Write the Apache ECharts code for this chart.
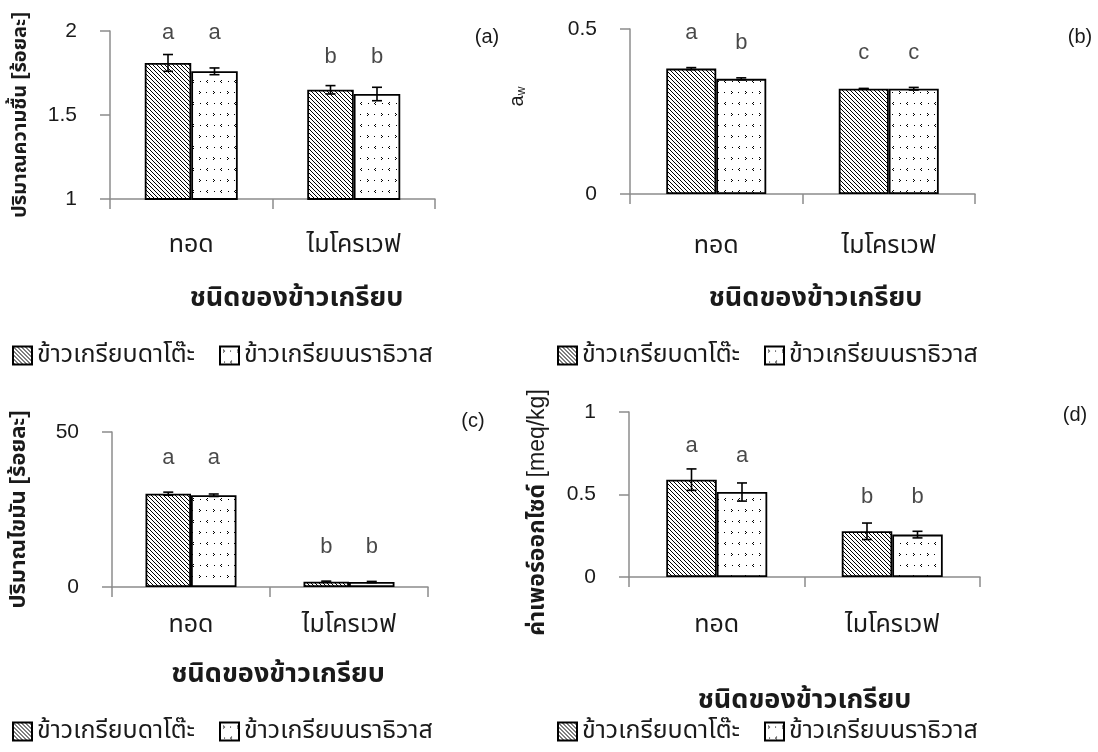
<!DOCTYPE html>
<html>
<head>
<meta charset="utf-8">
<script src="https://cdn.jsdelivr.net/npm/echarts@6/dist/echarts.min.js"></script>
<style>
  html, body { margin: 0; padding: 0; background: #fff; }
  #chart { width: 1098px; height: 752px; }
</style>
</head>
<body>
<div id="chart"></div>
<script>
// categories and series
var categories = ['ทอด', 'ไมโครเวฟ'];
var seriesNames = ['ข้าวเกรียบดาโต๊ะ', 'ข้าวเกรียบนราธิวาส'];

// (a) moisture
var moistureDatoh = [1.81, 1.65];
var moistureNara = [1.76, 1.625];
var moistureErrDatoh = [0.05, 0.025];
var moistureErrNara = [0.02, 0.04];
var moistureLetterDatoh = ['a', 'b'];
var moistureLetterNara = ['a', 'b'];
var moistureLetterPosDatoh = [1.99, 1.845];
var moistureLetterPosNara = [1.99, 1.845];

// (b) water activity
var awDatoh = [0.38, 0.319];
var awNara = [0.349, 0.319];
var awErrDatoh = [0.003, 0.001];
var awErrNara = [0.003, 0.004];
var awLetterDatoh = ['a', 'c'];
var awLetterNara = ['b', 'c'];
var awLetterPosDatoh = [0.488, 0.427];
var awLetterPosNara = [0.458, 0.427];

// (c) fat
var fatDatoh = [30.1, 1.7];
var fatNara = [29.6, 1.6];
var fatErrDatoh = [0.5, 0.2];
var fatErrNara = [0.4, 0.2];
var fatLetterDatoh = ['a', 'b'];
var fatLetterNara = ['a', 'b'];
var fatLetterPosDatoh = [41.6, 12.9];
var fatLetterPosNara = [41.6, 12.9];

// (d) peroxide value
var pvDatoh = [0.59, 0.277];
var pvNara = [0.515, 0.257];
var pvErrDatoh = [0.065, 0.05];
var pvErrNara = [0.055, 0.02];
var pvLetterDatoh = ['a', 'b'];
var pvLetterNara = ['a', 'b'];
var pvLetterPosDatoh = [0.795, 0.483];
var pvLetterPosNara = [0.735, 0.483];

var FONT = "'Liberation Sans', Arial, 'Noto Sans Thai', 'Noto Sans', 'DejaVu Sans', sans-serif";
var AXIS_GRAY = '#8c8c8c';
var TEXT = '#1a1a1a';

// fill patterns
function hatchPattern() {
    var c = document.createElement('canvas');
    c.width = 4; c.height = 4;
    var ctx = c.getContext('2d');
    ctx.fillStyle = '#fff';
    ctx.fillRect(0, 0, 4, 4);
    ctx.fillStyle = '#000';
    for (var i = 0; i < 4; ++i) {
        ctx.fillRect(i, i, 1, 1);
    }
    return { image: c, repeat: 'repeat' };
}
function dotPattern() {
    var c = document.createElement('canvas');
    c.width = 14; c.height = 22;
    var ctx = c.getContext('2d');
    ctx.fillStyle = '#fff';
    ctx.fillRect(0, 0, 14, 22);
    ctx.fillStyle = '#000';
    // ">" shaped dot
    ctx.fillRect(3, 3, 1, 1);
    ctx.fillRect(4, 4, 1, 1);
    ctx.fillRect(3, 5, 1, 1);
    // "<" shaped dot
    ctx.fillRect(11, 14, 1, 1);
    ctx.fillRect(10, 15, 1, 1);
    ctx.fillRect(11, 16, 1, 1);
    // staggered extra dots
    ctx.fillRect(10, 4, 1, 1);
    ctx.fillRect(4, 15, 1, 1);
    return { image: c, repeat: 'repeat' };
}
var fills = [hatchPattern(), dotPattern()];

var panels = [
    { grid: { left: 110, top: 31, width: 325, height: 168 }, barWidth: 46.5,
      min: 1, max: 2, interval: 0.5,
      yName: '{b|ปริมาณความชื้น [ร้อยละ]}', yGap: 80, yPad: [0, 0, 0, 0], yTitleSize: 20,
      labelMargin: 34, xGap: 86, xTitleShift: 48,
      values: [moistureDatoh, moistureNara], errs: [moistureErrDatoh, moistureErrNara],
      letters: [moistureLetterDatoh, moistureLetterNara], letterPos: [moistureLetterPosDatoh, moistureLetterPosNara],
      tag: '(a)', tagPos: [487, 37], legendPos: [12, 343] },
    { grid: { left: 630, top: 29, width: 345, height: 165 }, barWidth: 50,
      min: 0, max: 0.5, interval: 0.5,
      yName: 'a{sub|w}', yGap: 102, yPad: [0, 0, 0, 30], yTitleSize: 20,
      labelMargin: 40, xGap: 91, xTitleShift: 26,
      values: [awDatoh, awNara], errs: [awErrDatoh, awErrNara],
      letters: [awLetterDatoh, awLetterNara], letterPos: [awLetterPosDatoh, awLetterPosNara],
      tag: '(b)', tagPos: [1080, 37], legendPos: [557, 343] },
    { grid: { left: 112, top: 432, width: 316, height: 155 }, barWidth: 45.5,
      min: 0, max: 50, interval: 50,
      yName: '{b|ปริมาณไขมัน [ร้อยละ]}', yGap: 82, yPad: [0, 0, 0, 0], yTitleSize: 22,
      labelMargin: 26, xGap: 74, xTitleShift: 16,
      values: [fatDatoh, fatNara], errs: [fatErrDatoh, fatErrNara],
      letters: [fatLetterDatoh, fatLetterNara], letterPos: [fatLetterPosDatoh, fatLetterPosNara],
      tag: '(c)', tagPos: [473, 421], legendPos: [12, 719] },
    { grid: { left: 629, top: 412, width: 351, height: 165 }, barWidth: 50.5,
      min: 0, max: 1, interval: 0.5,
      yName: '{b|ค่าเพอร์ออกไซด์} [meq/kg]', yGap: 80, yPad: [0, 36, 0, 0], yTitleSize: 23,
      labelMargin: 36, xGap: 110, xTitleShift: 0,
      values: [pvDatoh, pvNara], errs: [pvErrDatoh, pvErrNara],
      letters: [pvLetterDatoh, pvLetterNara], letterPos: [pvLetterPosDatoh, pvLetterPosNara],
      tag: '(d)', tagPos: [1075, 415], legendPos: [557, 719] }
];

function errorBars(values, errs, offset, gi) {
    var data = [];
    for (var i = 0; i < values.length; ++i) {
        data.push([i, values[i] - errs[i], values[i] + errs[i]]);
    }
    return {
        type: 'custom',
        xAxisIndex: gi,
        yAxisIndex: gi,
        z: 5,
        silent: true,
        data: data,
        renderItem: function (params, api) {
            var lo = api.coord([api.value(0), api.value(1)]);
            var hi = api.coord([api.value(0), api.value(2)]);
            var x = lo[0] + offset;
            var cap = 5;
            var style = { stroke: '#000', lineWidth: 1.6 };
            return {
                type: 'group',
                children: [
                    { type: 'line', shape: { x1: x, y1: lo[1], x2: x, y2: hi[1] }, style: style },
                    { type: 'line', shape: { x1: x - cap, y1: lo[1], x2: x + cap, y2: lo[1] }, style: style },
                    { type: 'line', shape: { x1: x - cap, y1: hi[1], x2: x + cap, y2: hi[1] }, style: style }
                ]
            };
        }
    };
}

function letterSeries(letters, pos, offset, gi) {
    var data = [];
    for (var i = 0; i < letters.length; ++i) {
        data.push([i, pos[i]]);
    }
    return {
        type: 'scatter',
        xAxisIndex: gi,
        yAxisIndex: gi,
        symbolSize: 0,
        silent: true,
        data: data,
        label: {
            show: true,
            position: 'inside',
            offset: [offset, 0],
            fontFamily: FONT,
            fontSize: 22,
            color: TEXT,
            formatter: function (p) { return letters[p.dataIndex]; }
        }
    };
}

var grids = [], xAxes = [], yAxes = [], series = [], legends = [], graphics = [];

for (var gi = 0; gi < panels.length; ++gi) {
    var p = panels[gi];
    grids.push(p.grid);
    xAxes.push({
        type: 'category',
        gridIndex: gi,
        data: categories,
        axisLine: { lineStyle: { color: AXIS_GRAY, width: 1.5 } },
        axisTick: { show: true, length: 10, lineStyle: { color: AXIS_GRAY, width: 1.5 } },
        axisLabel: { margin: p.labelMargin, fontFamily: FONT, fontSize: 25, color: TEXT },
        name: 'ชนิดของข้าวเกรียบ',
        nameLocation: 'middle',
        nameGap: p.xGap,
        nameTextStyle: { fontFamily: FONT, fontSize: 27, fontWeight: 'bold', color: TEXT,
            padding: [0, 0, 0, p.xTitleShift] }
    });
    yAxes.push({
        type: 'value',
        gridIndex: gi,
        min: p.min,
        max: p.max,
        interval: p.interval,
        splitLine: { show: false },
        axisLine: { show: true, lineStyle: { color: AXIS_GRAY, width: 1.5 } },
        axisTick: { show: true, length: 10, lineStyle: { color: AXIS_GRAY, width: 1.5 } },
        axisLabel: { margin: 33, fontFamily: FONT, fontSize: 21, color: TEXT },
        name: p.yName,
        nameLocation: 'middle',
        nameRotate: 90,
        nameGap: p.yGap,
        nameTextStyle: {
            fontFamily: FONT, fontSize: p.yTitleSize, color: TEXT,
            padding: p.yPad,
            rich: {
                b: { fontFamily: FONT, fontSize: p.yTitleSize, fontWeight: 'bold', color: TEXT },
                sub: { fontFamily: FONT, fontSize: 12, color: TEXT, verticalAlign: 'bottom', padding: [10, 0, 0, 0] }
            }
        }
    });
    for (var s = 0; s < 2; ++s) {
        series.push({
            name: seriesNames[s],
            type: 'bar',
            xAxisIndex: gi,
            yAxisIndex: gi,
            data: p.values[s],
            barWidth: p.barWidth,
            barGap: '0%',
            itemStyle: { color: fills[s], borderColor: '#000', borderWidth: 1.8 }
        });
    }
    var half = p.barWidth / 2;
    series.push(errorBars(p.values[0], p.errs[0], -half, gi));
    series.push(errorBars(p.values[1], p.errs[1], half, gi));
    series.push(letterSeries(p.letters[0], p.letterPos[0], -half, gi));
    series.push(letterSeries(p.letters[1], p.letterPos[1], half, gi));

    legends.push({
        left: p.legendPos[0],
        top: p.legendPos[1],
        padding: 0,
        data: seriesNames,
        itemWidth: 19,
        itemHeight: 18,
        itemGap: 24,
        selectedMode: false,
        icon: 'rect',
        textStyle: { fontFamily: FONT, fontSize: 25, color: TEXT }
    });
    graphics.push({
        type: 'text',
        x: p.tagPos[0],
        y: p.tagPos[1],
        style: { text: p.tag, fontFamily: FONT, fontSize: 20, fill: TEXT, align: 'center', verticalAlign: 'middle' }
    });
}

var chart = echarts.init(document.getElementById('chart'));
chart.setOption({
    animation: false,
    backgroundColor: '#fff',
    grid: grids,
    xAxis: xAxes,
    yAxis: yAxes,
    legend: legends,
    graphic: graphics,
    series: series
});
</script>
</body>
</html>
